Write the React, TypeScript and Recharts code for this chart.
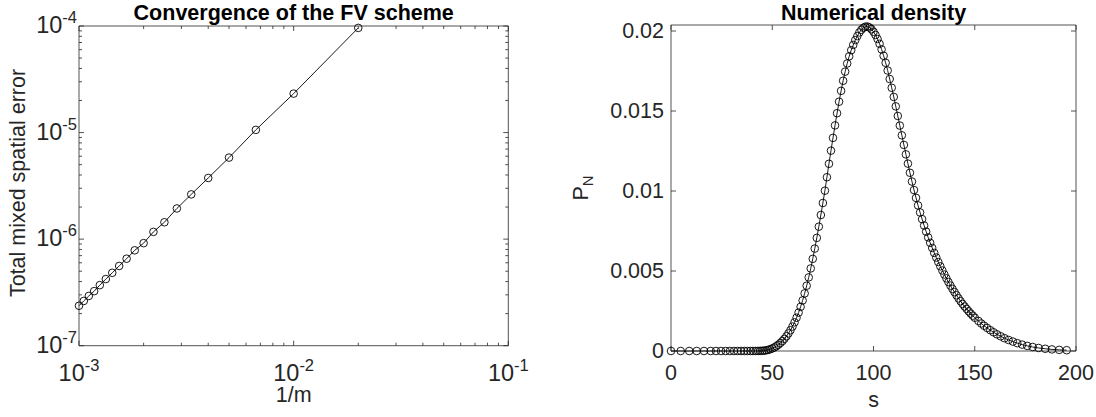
import { LineChart, Line, XAxis, YAxis } from 'recharts'

// left panel: convergence study, one point per mesh size m
const meshSizes = [50, 100, 150, 200, 250, 300, 350, 400, 450, 500, 550, 600, 650, 700, 750, 800, 850, 900, 950, 1000]
const spatialErrors = [
  9.6e-5, 2.32e-5, 1.06e-5, 5.82e-6, 3.75e-6, 2.63e-6, 1.94e-6, 1.44e-6, 1.17e-6, 9.17e-7,
  7.85e-7, 6.55e-7, 5.6e-7, 4.83e-7, 4.22e-7, 3.7e-7, 3.25e-7, 2.93e-7, 2.63e-7, 2.37e-7,
]
const logXTicks = [
  0.001, 0.002, 0.003, 0.004, 0.005, 0.006, 0.007, 0.008, 0.009,
  0.01, 0.02, 0.03, 0.04, 0.05, 0.06, 0.07, 0.08, 0.09, 0.1,
]
const logYTicks = [
  1e-7, 2e-7, 3e-7, 4e-7, 5e-7, 6e-7, 7e-7, 8e-7, 9e-7,
  1e-6, 2e-6, 3e-6, 4e-6, 5e-6, 6e-6, 7e-6, 8e-6, 9e-6,
  1e-5, 2e-5, 3e-5, 4e-5, 5e-5, 6e-5, 7e-5, 8e-5, 9e-5, 1e-4,
]

// right panel: numerical density on a non-uniform grid
const densityS = [
  0, 4.8, 9.0, 12.7, 16.3, 19.6, 22.2, 24.7, 27.0, 29.1,
  31.1, 32.9, 34.6, 36.2, 37.7, 39.2, 40.5, 41.8, 43.0, 44.1,
  45.1, 46, 47, 48, 49, 50, 51, 52, 53, 54,
  55, 56, 57, 58, 59, 60, 61, 62, 63, 64,
  65, 66, 67, 68, 69, 70, 71, 72, 73, 74,
  75, 76, 77, 78, 79, 80, 81, 82, 83, 84,
  85, 86, 87, 88, 89, 90, 91, 92, 93, 94,
  95, 96, 97, 98, 99, 100, 101, 102, 103, 104,
  105, 106, 107, 108, 109, 110, 111, 112, 113, 114,
  115, 116, 117, 118, 119, 120, 121, 122, 123, 124,
  125, 126, 127, 128, 129, 130, 131, 132, 133, 134,
  135, 136, 137, 138, 139, 140, 141, 142, 143, 144,
  145, 146, 147, 148, 149, 150, 151.8, 153.2, 154.6, 156.1,
  157.7, 159.3, 161.0, 162.8, 164.7, 166.7, 168.8, 171.0, 173.4, 175.9,
  178.6, 181.5, 184.8, 188.1, 191.7, 195.4,
]
const densityP = [
  0, 0, 0, 0, 0, 0, 0, 0, 0, 0,
  0, 0, 0, 0, 0, 0, 0.000001, 0.000002, 0.000005, 0.00001,
  0.000015, 0.00002, 0.00004, 0.00007, 0.00011, 0.00016, 0.00022, 0.0003, 0.00039, 0.0005,
  0.00062, 0.00076, 0.00092, 0.0011, 0.0013, 0.00153, 0.00179, 0.00208, 0.0024, 0.00276,
  0.00316, 0.0036, 0.00408, 0.0046, 0.00516, 0.00576, 0.0064, 0.00707, 0.00777, 0.0085,
  0.00925, 0.01002, 0.01086, 0.0117, 0.01252, 0.01332, 0.0141, 0.01486, 0.01558, 0.01626,
  0.01689, 0.01746, 0.01797, 0.01842, 0.0188, 0.01913, 0.01943, 0.01968, 0.01991, 0.02008,
  0.0202, 0.02027, 0.02028, 0.02022, 0.02011, 0.01995, 0.01975, 0.0195, 0.0192, 0.01885,
  0.01845, 0.01801, 0.01753, 0.017, 0.01645, 0.01588, 0.01529, 0.01469, 0.01409, 0.01348,
  0.01288, 0.01229, 0.01171, 0.01114, 0.01059, 0.01006, 0.00957, 0.0091, 0.00866, 0.00824,
  0.00784, 0.00746, 0.0071, 0.00676, 0.00644, 0.00613, 0.00584, 0.00556, 0.00529, 0.00503,
  0.00478, 0.00454, 0.00431, 0.00409, 0.00388, 0.00368, 0.00348, 0.00329, 0.00311, 0.00294,
  0.00278, 0.00263, 0.00248, 0.00234, 0.00221, 0.00208, 0.00188, 0.00172, 0.00158, 0.00144,
  0.0013, 0.00117, 0.00104, 0.00092, 0.0008, 0.00069, 0.00059, 0.00049, 0.0004, 0.00032,
  0.00025, 0.00019, 0.00014, 0.0001, 0.00007, 0.00005,
]
const sTicks = [0, 50, 100, 150, 200]
const pTicks = [0, 0.005, 0.01, 0.015, 0.02]
const pTickLabels = ['0', '0.005', '0.01', '0.015', '0.02']

const convergenceData = meshSizes.map((m, i) => ({ h: 1 / m, err: spatialErrors[i] }))
const densityData = densityS.map((s, i) => ({ s, p: densityP[i] }))

const AXIS = '#262626'
const FONT = '"Liberation Sans", Arial, Helvetica, sans-serif'
const FS = 21.5

type TickProps = { x?: number; y?: number; payload?: { value: number } }

function isDecade(v: number) {
  const l = Math.log10(v)
  return Math.abs(l - Math.round(l)) < 1e-6
}

// dir: which way the tick points into the plot
function makeTick(dir: 'up' | 'down' | 'left' | 'right', label?: (v: number, x: number, y: number) => any, log = false) {
  return ({ x = 0, y = 0, payload }: TickProps) => {
    const v = payload?.value ?? 0
    const major = !log || isDecade(v)
    const len = major ? 5 : 3
    const x2 = dir === 'right' ? x + len : dir === 'left' ? x - len : x
    const y2 = dir === 'up' ? y - len : dir === 'down' ? y + len : y
    return (
      <g>
        <line x1={x} y1={y} x2={x2} y2={y2} stroke={AXIS} strokeWidth={0.8} />
        {label && major ? label(v, x, y) : null}
      </g>
    )
  }
}

const pow10Bottom = (v: number, x: number, y: number) => (
  <text x={x} y={y + 35} textAnchor="middle" fontSize={23.5} fill={AXIS} fontFamily={FONT}>
    10<tspan dy={-10} fontSize={16.5}>{Math.round(Math.log10(v))}</tspan>
  </text>
)
const pow10Left = (v: number, x: number, y: number) => (
  <text x={x - 2} y={y + 7} textAnchor="end" fontSize={23.5} fill={AXIS} fontFamily={FONT}>
    10<tspan dy={-10} fontSize={16.5}>{Math.round(Math.log10(v))}</tspan>
  </text>
)
const linBottom = (v: number, x: number, y: number) => (
  <text x={x} y={y + 29} textAnchor="middle" fontSize={FS} fill={AXIS} fontFamily={FONT}>
    {v}
  </text>
)
const linLeft = (v: number, x: number, y: number) => (
  <text x={x - 7} y={y + 7} textAnchor="end" fontSize={FS} fill={AXIS} fontFamily={FONT}>
    {pTickLabels[pTicks.indexOf(v)]}
  </text>
)

const axisLine = { stroke: AXIS, strokeWidth: 0.8 }
const dotStyle = { r: 3.8, stroke: '#000', strokeWidth: 0.9, fill: 'none' }
// shared props for every axis: ticks drawn by our own tick component
const axisBase = { interval: 0 as const, tickSize: 0, tickMargin: 0, axisLine }

function ConvergencePlot() {
  return (
    <LineChart
      width={548}
      height={417}
      data={convergenceData}
      margin={{ top: 16, left: 39, right: 29.7, bottom: 41.3 }}
    >
      <XAxis xAxisId="b" dataKey="h" type="number" scale="log" domain={[0.001, 0.1]} ticks={logXTicks}
        height={30} {...axisBase} tick={makeTick('up', pow10Bottom, true)} />
      <XAxis xAxisId="t" dataKey="h" orientation="top" type="number" scale="log" domain={[0.001, 0.1]}
        ticks={logXTicks} allowDataOverflow height={10} {...axisBase} tick={makeTick('down', undefined, true)} />
      <YAxis yAxisId="l" dataKey="err" type="number" scale="log" domain={[1e-7, 1e-4]} ticks={logYTicks}
        width={40} {...axisBase} tick={makeTick('right', pow10Left, true)} />
      <YAxis yAxisId="r" dataKey="err" orientation="right" type="number" scale="log" domain={[1e-7, 1e-4]}
        ticks={logYTicks} allowDataOverflow width={10} {...axisBase} tick={makeTick('left', undefined, true)} />
      <Line xAxisId="b" yAxisId="l" dataKey="err" stroke="#000" strokeWidth={0.9}
        dot={dotStyle} activeDot={false} isAnimationActive={false} />
    </LineChart>
  )
}

function DensityPlot() {
  return (
    <LineChart
      width={548}
      height={417}
      data={densityData}
      margin={{ top: 15, left: 83, right: 10, bottom: 36 }}
    >
      <XAxis xAxisId="b" dataKey="s" type="number" domain={[0, 200]} ticks={sTicks}
        height={30} {...axisBase} tick={makeTick('up', linBottom)} />
      <XAxis xAxisId="t" dataKey="s" orientation="top" type="number" domain={[0, 200]} ticks={sTicks}
        allowDataOverflow height={10} {...axisBase} tick={makeTick('down')} />
      <YAxis yAxisId="l" dataKey="p" type="number" domain={[0, 0.020375]} ticks={pTicks}
        width={40} {...axisBase} tick={makeTick('right', linLeft)} />
      <YAxis yAxisId="r" dataKey="p" orientation="right" type="number" domain={[0, 0.020375]} ticks={pTicks}
        allowDataOverflow width={10} {...axisBase} tick={makeTick('left')} />
      <Line xAxisId="b" yAxisId="l" dataKey="p" stroke="#000" strokeWidth={0.9}
        dot={dotStyle} activeDot={false} isAnimationActive={false} />
    </LineChart>
  )
}

export default function App() {
  return (
    <div style={{ position: 'absolute', left: 0, top: 0, width: 1096, height: 417, background: '#fff' }}>
      <div style={{ position: 'absolute', left: 0, top: 0 }}>
        <ConvergencePlot />
      </div>
      <div style={{ position: 'absolute', left: 548, top: 0 }}>
        <DensityPlot />
      </div>
      <svg width={1096} height={417} style={{ position: 'absolute', left: 0, top: 0, pointerEvents: 'none' }}
        fontFamily={FONT}>
        <text x={293.7} y={20} textAnchor="middle" fontSize={21.5} fontWeight="bold" fill="#000">
          Convergence of the FV scheme
        </text>
        <text x={873.5} y={20} textAnchor="middle" fontSize={21.5} fontWeight="bold" fill="#000">
          Numerical density
        </text>
        <text x={293.7} y={402} textAnchor="middle" fontSize={FS} fill={AXIS}>1/m</text>
        <text x={873.5} y={407} textAnchor="middle" fontSize={FS} fill={AXIS}>s</text>
        <text x={25} y={183} textAnchor="middle" fontSize={FS} fill={AXIS} transform="rotate(-90 25 183)">
          Total mixed spatial error
        </text>
        <text x={588} y={188} textAnchor="middle" fontSize={FS} fill={AXIS} transform="rotate(-90 588 188)">
          P<tspan dy={5} fontSize={15}>N</tspan>
        </text>
      </svg>
    </div>
  )
}
